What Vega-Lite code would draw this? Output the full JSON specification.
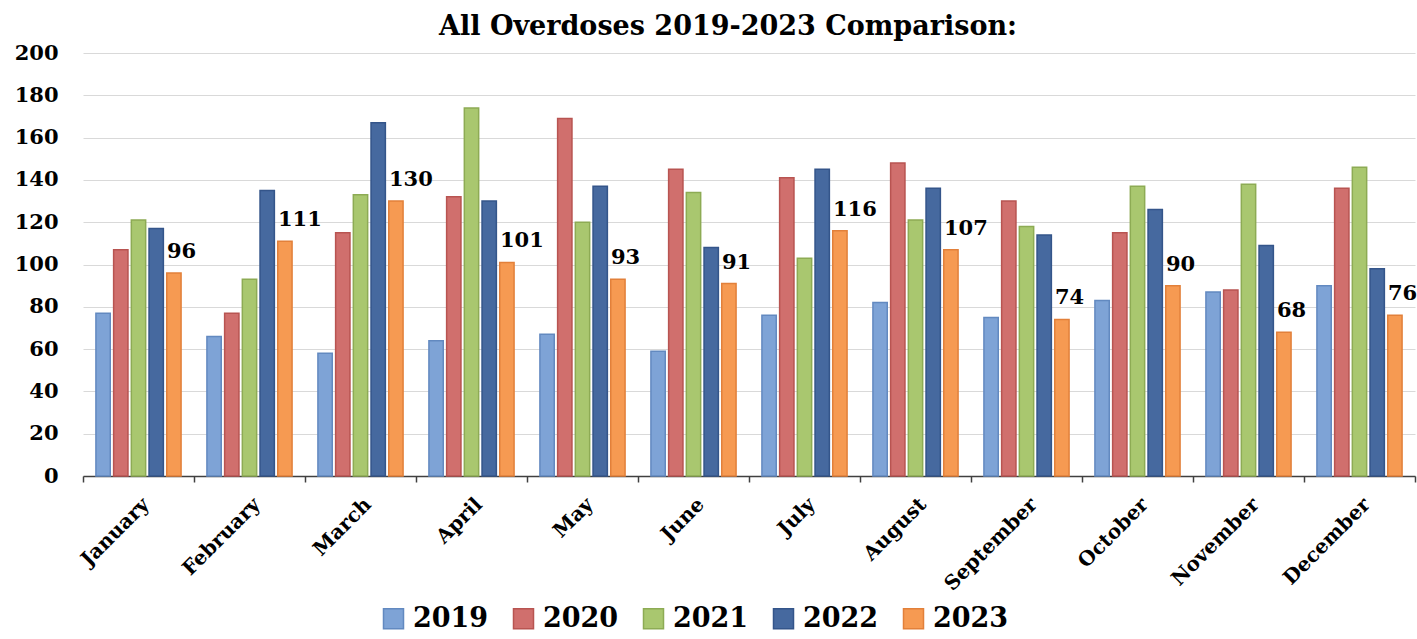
{
  "$schema": "https://vega.github.io/schema/vega-lite/v6.json",
  "width": 1332,
  "height": 423,
  "autosize": {"type": "none"},
  "padding": {"left": 83, "top": 53, "right": 2, "bottom": 163},
  "background": "white",
  "title": {"text": "All Overdoses 2019-2023 Comparison:", "font": "DejaVu Serif", "fontSize": 27, "fontWeight": "bold", "color": "#000000", "anchor": "middle", "dx": -21, "offset": 1},
  "config": {"view": {"stroke": null}, "font": "DejaVu Serif"},
  "data": {"values": [
    {"month": "January", "year": "2019", "value": 77}, {"month": "January", "year": "2020", "value": 107}, {"month": "January", "year": "2021", "value": 121}, {"month": "January", "year": "2022", "value": 117}, {"month": "January", "year": "2023", "value": 96},
    {"month": "February", "year": "2019", "value": 66}, {"month": "February", "year": "2020", "value": 77}, {"month": "February", "year": "2021", "value": 93}, {"month": "February", "year": "2022", "value": 135}, {"month": "February", "year": "2023", "value": 111},
    {"month": "March", "year": "2019", "value": 58}, {"month": "March", "year": "2020", "value": 115}, {"month": "March", "year": "2021", "value": 133}, {"month": "March", "year": "2022", "value": 167}, {"month": "March", "year": "2023", "value": 130},
    {"month": "April", "year": "2019", "value": 64}, {"month": "April", "year": "2020", "value": 132}, {"month": "April", "year": "2021", "value": 174}, {"month": "April", "year": "2022", "value": 130}, {"month": "April", "year": "2023", "value": 101},
    {"month": "May", "year": "2019", "value": 67}, {"month": "May", "year": "2020", "value": 169}, {"month": "May", "year": "2021", "value": 120}, {"month": "May", "year": "2022", "value": 137}, {"month": "May", "year": "2023", "value": 93},
    {"month": "June", "year": "2019", "value": 59}, {"month": "June", "year": "2020", "value": 145}, {"month": "June", "year": "2021", "value": 134}, {"month": "June", "year": "2022", "value": 108}, {"month": "June", "year": "2023", "value": 91},
    {"month": "July", "year": "2019", "value": 76}, {"month": "July", "year": "2020", "value": 141}, {"month": "July", "year": "2021", "value": 103}, {"month": "July", "year": "2022", "value": 145}, {"month": "July", "year": "2023", "value": 116},
    {"month": "August", "year": "2019", "value": 82}, {"month": "August", "year": "2020", "value": 148}, {"month": "August", "year": "2021", "value": 121}, {"month": "August", "year": "2022", "value": 136}, {"month": "August", "year": "2023", "value": 107},
    {"month": "September", "year": "2019", "value": 75}, {"month": "September", "year": "2020", "value": 130}, {"month": "September", "year": "2021", "value": 118}, {"month": "September", "year": "2022", "value": 114}, {"month": "September", "year": "2023", "value": 74},
    {"month": "October", "year": "2019", "value": 83}, {"month": "October", "year": "2020", "value": 115}, {"month": "October", "year": "2021", "value": 137}, {"month": "October", "year": "2022", "value": 126}, {"month": "October", "year": "2023", "value": 90},
    {"month": "November", "year": "2019", "value": 87}, {"month": "November", "year": "2020", "value": 88}, {"month": "November", "year": "2021", "value": 138}, {"month": "November", "year": "2022", "value": 109}, {"month": "November", "year": "2023", "value": 68},
    {"month": "December", "year": "2019", "value": 90}, {"month": "December", "year": "2020", "value": 136}, {"month": "December", "year": "2021", "value": 146}, {"month": "December", "year": "2022", "value": 98}, {"month": "December", "year": "2023", "value": 76}
  ]},
  "encoding": {
    "x": {"field": "month", "type": "nominal", "sort": ["January","February","March","April","May","June","July","August","September","October","November","December"],
      "scale": {"paddingInner": 0, "paddingOuter": 0},
      "axis": {"title": null, "labelAngle": -45, "labelFontSize": 20, "labelFontWeight": "bold", "labelColor": "#000000", "tickBand": "extent", "tickSize": 6, "tickColor": "#404040", "domainColor": "#404040", "domainWidth": 1.5, "tickWidth": 1.5, "grid": false, "labelPadding": 12}},
    "xOffset": {"field": "year", "type": "nominal", "scale": {"paddingInner": 0.19, "paddingOuter": 0.73}},
    "y": {"field": "value", "type": "quantitative", "scale": {"domain": [0, 200]},
      "axis": {"title": null, "values": [0,20,40,60,80,100,120,140,160,180,200], "domain": false, "ticks": false, "labelPadding": 25, "labelFontSize": 21, "labelFontWeight": "bold", "labelColor": "#000000", "gridColor": "#d9d9d9", "gridWidth": 1.2}}
  },
  "layer": [
    {"mark": {"type": "bar", "strokeWidth": 1.5},
     "encoding": {
       "color": {"field": "year", "type": "nominal", "scale": {"domain": ["2019","2020","2021","2022","2023"], "range": ["#7EA3D6","#D06F6D","#A9C76F","#46699F","#F69A52"]},
         "legend": {"title": null, "orient": "none", "legendX": 297, "legendY": 552, "direction": "horizontal", "symbolType": "square", "symbolSize": 400, "labelFontSize": 27, "labelFontWeight": "bold", "labelColor": "#000000", "columnPadding": 21, "labelOffset": 6, "symbolStrokeWidth": 1.5,
           "encode": {"symbols": {"update": {"stroke": {"signal": "scale('stroke', datum.value)"}}}}}},
       "stroke": {"field": "year", "type": "nominal", "scale": {"domain": ["2019","2020","2021","2022","2023"], "range": ["#6289C0","#B85451","#8DAB54","#34558A","#E2803A"]}, "legend": null}
     }},
    {"transform": [{"filter": "datum.year == '2023'"}],
     "mark": {"type": "text", "align": "left", "baseline": "bottom", "dx": -7, "dy": -11, "fontSize": 21, "fontWeight": "bold", "color": "#000000"},
     "encoding": {"text": {"field": "value", "type": "quantitative"}}}
  ]
}
